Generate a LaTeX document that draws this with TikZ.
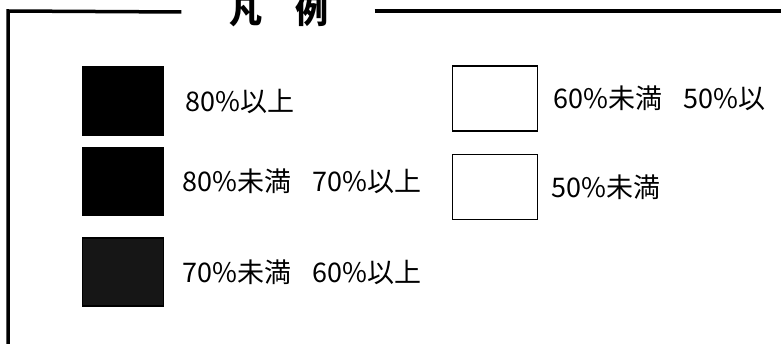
\documentclass[tikz,border=0pt]{standalone}
\usepackage{fontspec}
\usepackage{tikz}
\usetikzlibrary{positioning}
\newfontfamily\jpfont{Noto Sans CJK JP}
\definecolor{ink}{HTML}{000000}
\definecolor{shade}{HTML}{161616}
\newcommand\legsep{\hspace{0.8em}}
\tikzset{
  frame/.style   ={draw=ink, line width=3.5pt, line join=miter},
  swatch/.style  ={draw=ink, line width=1.6pt, minimum width=81pt,
                   minimum height=68pt, inner sep=0pt},
  swblack/.style ={swatch, fill=ink},
  swdark/.style  ={swatch, fill=shade},
  swwhite/.style ={swatch, fill=white, minimum width=85pt, minimum height=65pt},
  legtext/.style ={font=\jpfont\fontsize{27}{30}\selectfont, inner sep=0pt},
  headtxt/.style ={font=\jpfont\bfseries\fontsize{33}{36}\selectfont, inner sep=0pt}
}

\begin{document}
\begin{tikzpicture}[x=1pt, y=1pt, node distance=20pt]
  \useasboundingbox (0,0) rectangle (781,-344);
  \clip (0,0) rectangle (781,-344);

  \node[headtxt] (head) at (279,-11) {凡　例};
  \coordinate (topleft)  at (8,-11);
  \coordinate (botleft)  at (8,-350);
  \coordinate (topright) at (790,-11);

  \draw[frame] ([xshift=-48pt,yshift=-1pt]head.west |- topleft) -- (topleft) -- (botleft);
  \draw[frame] ([xshift=46pt]head.east |- topright) -- (topright);

  \node[swblack] (b80) at (123,-101) {};
  \node[swblack, below=11pt of b80] (b70) {};
  \node[swdark,  below=21pt of b70] (b60) {};

  \node[swwhite] (b50) at (495,-98.5) {};
  \node[swwhite, below=22pt of b50] (b00) {};

  \node[legtext, right=21pt of b80] (t80) {80\%以上};
  \node[legtext, right=18pt of b70] (t70) {80\%未満\legsep 70\%以上};
  \node[legtext, right=18pt of b60] (t60) {70\%未満\legsep 60\%以上};
  \node[legtext, right=15pt of b50] (t50) {60\%未満\legsep 50\%以};
  \node[legtext, right=13pt of b00] (t00) {50\%未満};

\end{tikzpicture}
\end{document}
